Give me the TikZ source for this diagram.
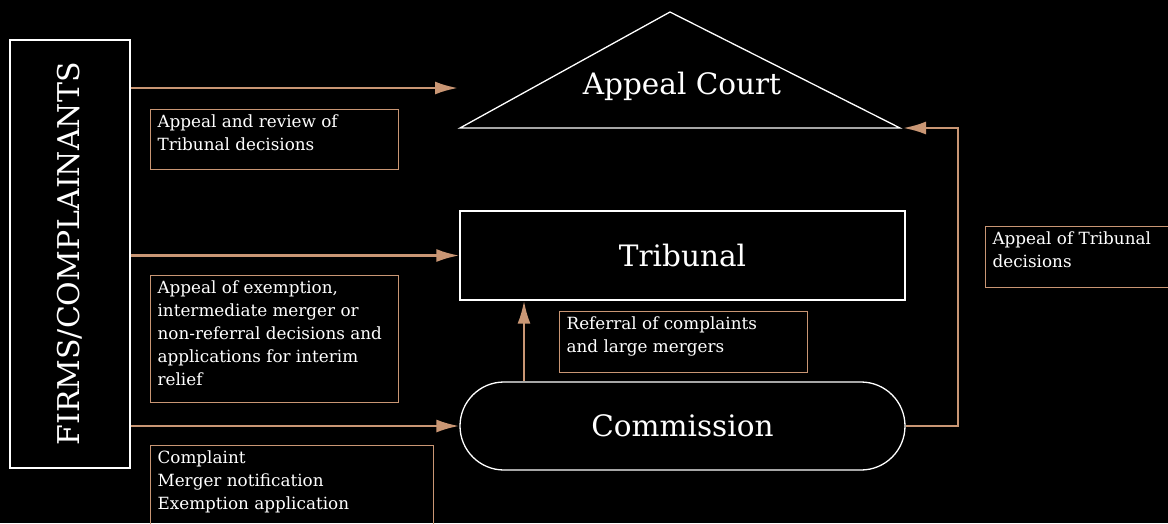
\documentclass[tikz,border=0pt]{standalone}
\usepackage{fontspec}
\setmainfont{DejaVu Serif}
\usetikzlibrary{arrows.meta,positioning}

\begin{document}
\begin{tikzpicture}[
  x=1pt, y=-1pt,
  >={Latex[length=23pt,width=13pt]},
  flow/.style={->, draw=tan, line width=2.6pt},
  block/.style={draw=white, line width=1.3pt, text=white, font=\fontsize{29.5}{34}\selectfont},
  note/.style={draw=tan, line width=1.2pt, text=white, anchor=north west, inner xsep=7pt, inner ysep=5.5pt, font=\fontsize{16.8}{23}\selectfont}
]

\definecolor{tan}{RGB}{201,150,116}

\useasboundingbox (0,0) rectangle (1168,523);
\fill[black] (0,0) rectangle (1168,523);

% bodies
\node[block, minimum width=120pt, minimum height=428pt] (firms) at (70,254) {};
\node[text=white, rotate=90, font=\fontsize{30}{34}\selectfont] (firmstext) at (firms) {FIRMS/COMPLAINANTS};

\coordinate (apex) at (670,12);
\coordinate (courtL) at (460,128);
\coordinate (courtR) at (900,128);
\draw[white, line width=1.3pt] (courtL) -- (apex) -- (courtR) -- cycle;
\node[text=white, font=\fontsize{29.5}{34}\selectfont] (court) at (682,86) {Appeal Court};

\node[block, minimum width=445pt, minimum height=89pt] (tribunal) at (682.5,255.5) {Tribunal};
\node[block, rounded corners=44pt, minimum width=445pt, minimum height=88pt] (commission) at (682.5,426) {Commission};

% connectors
\coordinate (courtin) at (458,88);
\coordinate (turn) at (958,128);
\draw[flow] (firms.east |- courtin) -- (courtin);
\draw[flow] (firms.east |- tribunal.west) -- (tribunal.west);
\draw[flow] (firms.east |- commission.west) -- (commission.west);
\draw[flow] ([xshift=-158.5pt]commission.north) -- ([xshift=-158.5pt]tribunal.south);
\draw[flow] (commission.east) -| (turn) -- ([xshift=3pt]courtR);

% labels
\node[note] (review) at (150,109) {\parbox[t][49pt][t]{234pt}{\raggedright Appeal and review of\\Tribunal decisions}};
\node[note] (exempt) at (150,275) {\parbox[t][116pt][t]{234pt}{\raggedright Appeal of exemption,\\intermediate merger or\\non-referral decisions and\\applications for interim\\relief}};
\node[note] (complaint) at (150,445) {\parbox[t][90pt][t]{269pt}{\raggedright Complaint\\Merger notification\\Exemption application}};
\node[note] (referral) at (559,311) {\parbox[t][50pt][t]{234pt}{\raggedright Referral of complaints\\and large mergers}};
\node[note] (tribappeal) at (985,226) {\parbox[t][50pt][t]{200pt}{\raggedright Appeal of Tribunal\\decisions}};

\end{tikzpicture}
\end{document}
